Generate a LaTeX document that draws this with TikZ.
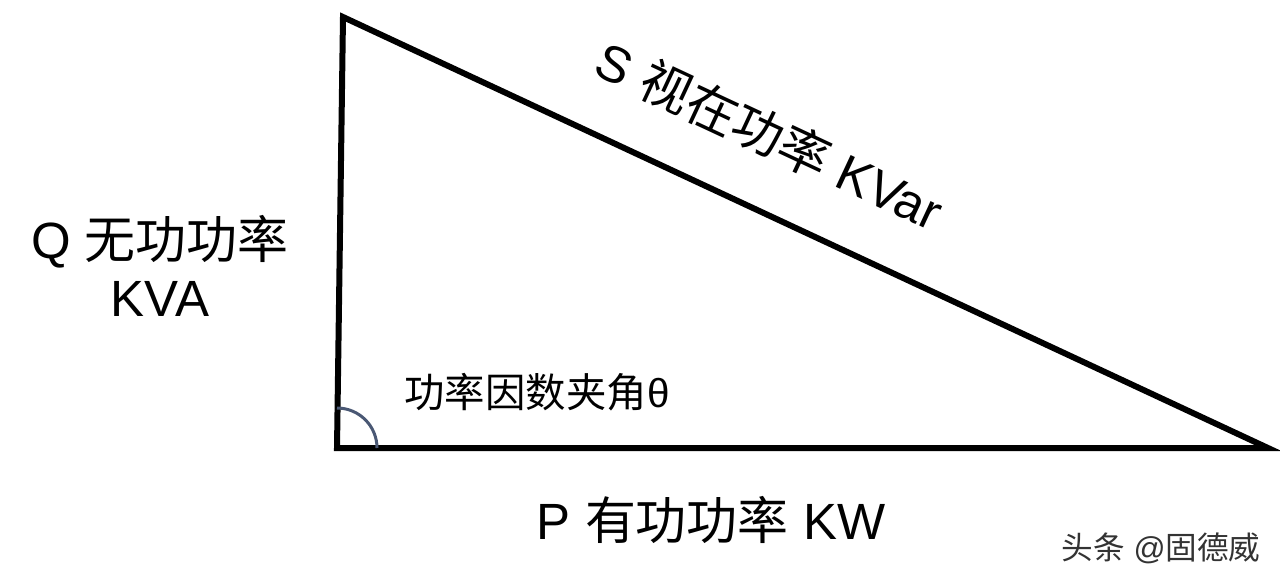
\documentclass[tikz,border=0pt]{standalone}
\usepackage{fontspec}
\setmainfont{Liberation Sans}
\newfontfamily\cjk{Noto Sans CJK SC}
\usetikzlibrary{positioning,calc}

\begin{document}
\begin{tikzpicture}[x=0.2mm, y=-0.2mm, line join=miter,
    every node/.append style={inner sep=0pt},
    side/.style={line width=1.2mm},
    sidetext/.style={font=\fontsize{29}{33}\selectfont, align=center},
    anglemark/.style={line width=0.6mm, draw={rgb,255:red,74;green,88;blue,116}}]
  \useasboundingbox (0,0) rectangle (1280,582);
  \coordinate (top) at (343,17);
  \coordinate (corner) at (337,448);
  \coordinate (tip) at (1268,448);
  \draw[side] (corner) -- (top) -- (tip) -- cycle;
  \draw[anglemark] ([shift={(0,-40)}]corner) arc[start angle=270, end angle=360, radius=40];
  % labels of the three sides
  \node[sidetext, rotate=-25] (slabel) at (770,135) {S {\cjk 视在功率} KVar};
  \node[sidetext] (qlabel) at (160,266) {Q {\cjk 无功功率}\\KVA};
  \node[sidetext] (plabel) at (711,520) {P {\cjk 有功功率} KW};
  \node[font=\fontsize{23}{27}\selectfont] (anglelabel) at (537,392) {{\cjk 功率因数夹角}θ};
  \node[font=\fontsize{18}{21}\selectfont, text=black!80] (mark) at (1161,548) {{\cjk 头条} @{\cjk 固德威}};
\end{tikzpicture}
\end{document}
